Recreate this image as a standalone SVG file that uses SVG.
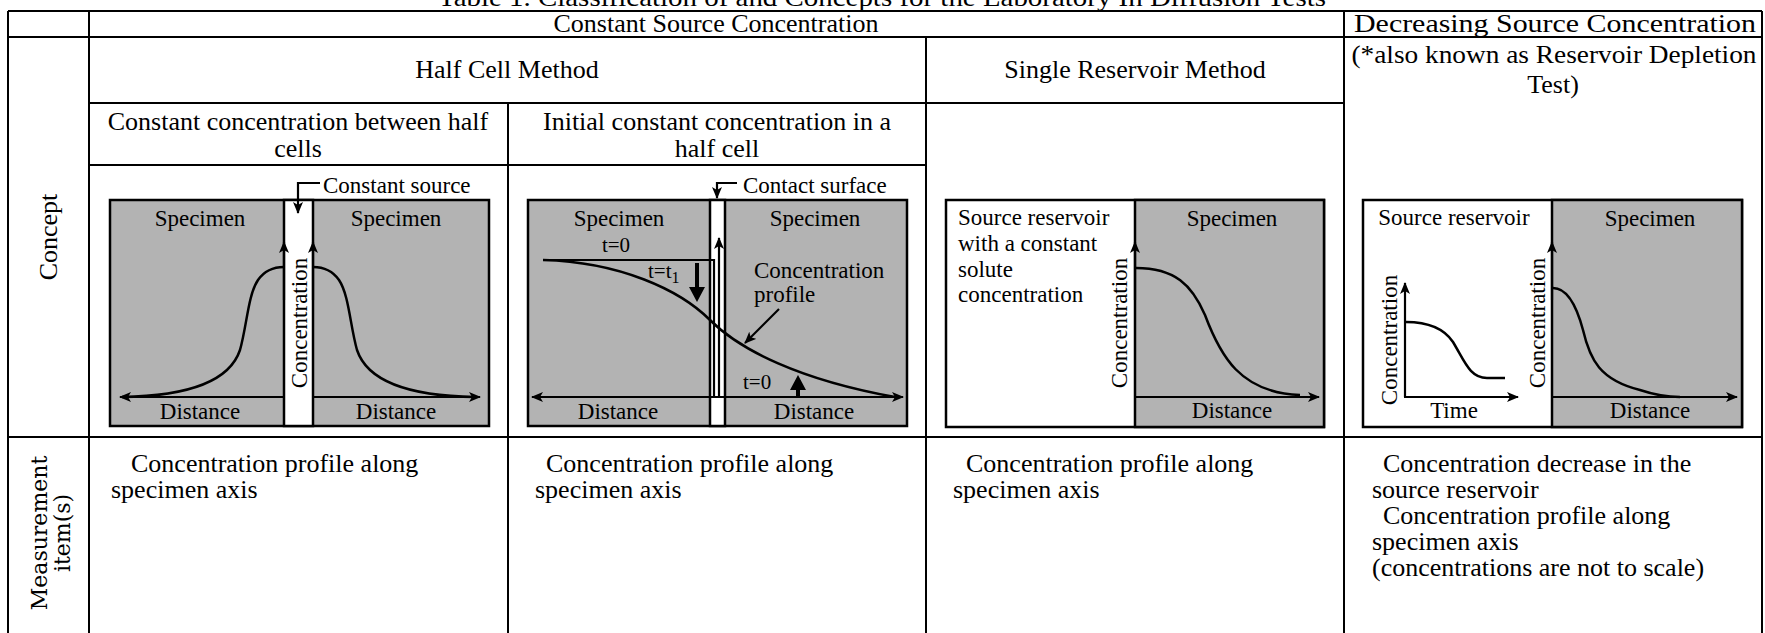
<svg xmlns="http://www.w3.org/2000/svg" width="1765" height="633" viewBox="0 0 1765 633">
<style>
.t{font-family:"Liberation Serif","Times New Roman",serif;font-size:26px;fill:#000}
.mt{font-family:"Liberation Serif","Times New Roman",serif;font-size:26px;fill:#000}
.f{font-family:"Liberation Serif","Times New Roman",serif;font-size:23px;fill:#000}
.s{font-family:"Liberation Serif","Times New Roman",serif;font-size:21px;fill:#000}
.m{font-family:"DejaVu Serif",serif;font-size:22px;fill:#000}
.c{text-anchor:middle}
.grid{stroke:#000;stroke-width:2;fill:none}
.box{stroke:#000;stroke-width:2.5}
.gray{fill:#b3b3b3}
.wh{fill:#fff}
.ax{stroke:#000;stroke-width:2.2;fill:none}
.cv{stroke:#000;stroke-width:2.5;fill:none}
</style>
<defs>
<marker id="ah" viewBox="0 0 12 10" refX="11" refY="5" markerWidth="12" markerHeight="10" markerUnits="userSpaceOnUse" orient="auto-start-reverse">
<path d="M0,0 L12,5 L0,10 L3,5 z" fill="#000"/>
</marker>
</defs>
<rect x="0" y="0" width="1765" height="633" fill="#fff"/>
<text class="t c" x="882" y="6" textLength="888" lengthAdjust="spacingAndGlyphs">Table 1. Classification of and Concepts for the Laboratory In Diffusion Tests</text>

<g id="table-grid" class="grid">
<line x1="8" y1="11" x2="1762" y2="11"/>
<line x1="8" y1="37" x2="1762" y2="37"/>
<line x1="89" y1="103" x2="1344" y2="103"/>
<line x1="89" y1="165" x2="926" y2="165"/>
<line x1="8" y1="437" x2="1762" y2="437"/>
<line x1="8" y1="11" x2="8" y2="633"/>
<line x1="1762" y1="11" x2="1762" y2="633"/>
<line x1="89" y1="11" x2="89" y2="633"/>
<line x1="1344" y1="11" x2="1344" y2="633"/>
<line x1="508" y1="103" x2="508" y2="633"/>
<line x1="926" y1="37" x2="926" y2="633"/>
</g>

<g id="headers">
<text class="t c" x="716" y="32">Constant Source Concentration</text>
<text class="t c" x="1555" y="32" textLength="402" lengthAdjust="spacingAndGlyphs">Decreasing Source Concentration</text>
<text class="t c" x="507" y="78">Half Cell Method</text>
<text class="t c" x="1135" y="78">Single Reservoir Method</text>
<text class="t c" x="1554" y="63" textLength="405" lengthAdjust="spacingAndGlyphs">(*also known as Reservoir Depletion</text>
<text class="t c" x="1553" y="93">Test)</text>
<text class="t c" x="298" y="130">Constant concentration between half</text>
<text class="t c" x="298" y="157">cells</text>
<text class="t c" x="717" y="130">Initial constant concentration in a</text>
<text class="t c" x="717" y="157">half cell</text>
<text class="t c" transform="translate(57,237) rotate(-90)">Concept</text>
<text class="m c" transform="translate(47,533) rotate(-90)">Measurement</text>
<text class="m c" transform="translate(70,533) rotate(-90)">item(s)</text>
</g>

<g id="fig-half-cell-constant">
<rect class="box gray" x="110" y="200" width="379" height="226"/>
<rect class="box wh" x="284" y="200" width="29" height="226"/>
<text class="f c" x="200" y="226">Specimen</text>
<text class="f c" x="396" y="226">Specimen</text>
<line class="ax" x1="284" y1="300" x2="284" y2="242" marker-end="url(#ah)"/>
<line class="ax" x1="313" y1="300" x2="313" y2="242" marker-end="url(#ah)"/>
<line class="ax" x1="284" y1="397" x2="120" y2="397" marker-end="url(#ah)"/>
<line class="ax" x1="313" y1="397" x2="480" y2="397" marker-end="url(#ah)"/>
<path class="cv" d="M122 397 C190 396,230 380,240 350 C247 325,248 295,258 280 C265 270,275 267,284 267"/>
<path class="cv" d="M475 397 C407 396,367 380,357 350 C350 325,349 295,339 280 C332 270,322 267,313 267"/>
<text class="f c" transform="translate(307,323) rotate(-90)">Concentration</text>
<text class="f c" x="200" y="419">Distance</text>
<text class="f c" x="396" y="419">Distance</text>
<path class="ax" d="M320 183 L298 183 L298 213" marker-end="url(#ah)"/>
<text class="f" x="323" y="193">Constant source</text>
</g>

<g id="fig-half-cell-initial">
<rect class="box gray" x="528" y="200" width="379" height="226"/>
<rect class="box wh" x="710" y="200" width="15" height="226"/>
<text class="f c" x="619" y="226">Specimen</text>
<text class="f c" x="815" y="226">Specimen</text>
<path class="ax" d="M543 260 L714 260 L714 397"/>
<line class="ax" x1="719" y1="397" x2="719" y2="238" marker-end="url(#ah)"/>
<line class="ax" x1="532" y1="397" x2="903" y2="397" marker-start="url(#ah)" marker-end="url(#ah)"/>
<path class="cv" d="M543 260 C620 262,680 290,710 320 C740 350,800 380,895 397"/>
<text class="s c" x="616" y="252">t=0</text>
<text class="s" x="648" y="278">t=t<tspan font-size="16" dy="5">1</tspan></text>
<line x1="697" y1="263" x2="697" y2="290" stroke="#000" stroke-width="4"/>
<polygon points="689,287 705,287 697,302" fill="#000"/>
<line x1="798" y1="397" x2="798" y2="387" stroke="#000" stroke-width="4"/>
<polygon points="790,390 806,390 798,375" fill="#000"/>
<text class="f" x="754" y="278">Concentration</text>
<text class="f" x="754" y="302">profile</text>
<line class="ax" x1="779" y1="309" x2="745" y2="343" marker-end="url(#ah)"/>
<text class="s" x="743" y="389">t=0</text>
<text class="f c" x="618" y="419">Distance</text>
<text class="f c" x="814" y="419">Distance</text>
<path class="ax" d="M737 183 L717 183 L717 198" marker-end="url(#ah)"/>
<text class="f" x="743" y="193">Contact surface</text>
</g>

<g id="fig-single-reservoir">
<rect class="box wh" x="946" y="200" width="378" height="227"/>
<rect class="box gray" x="1135" y="200" width="189" height="227"/>
<text class="f" x="958" y="225">Source reservoir</text>
<text class="f" x="958" y="251">with a constant</text>
<text class="f" x="958" y="277">solute</text>
<text class="f" x="958" y="302">concentration</text>
<text class="f c" x="1232" y="226">Specimen</text>
<line class="ax" x1="1135" y1="300" x2="1135" y2="242" marker-end="url(#ah)"/>
<line class="ax" x1="1136" y1="397" x2="1319" y2="397" marker-end="url(#ah)"/>
<path class="cv" d="M1136 268 C1175 268,1192 285,1205 315 C1220 355,1240 393,1300 395"/>
<text class="f c" transform="translate(1127,323) rotate(-90)">Concentration</text>
<text class="f c" x="1232" y="418">Distance</text>
</g>

<g id="fig-reservoir-depletion">
<rect class="box wh" x="1363" y="200" width="379" height="227"/>
<rect class="box gray" x="1552" y="200" width="190" height="227"/>
<text class="f c" x="1454" y="225">Source reservoir</text>
<text class="f c" x="1650" y="226">Specimen</text>
<line class="ax" x1="1405" y1="397" x2="1405" y2="283" marker-end="url(#ah)"/>
<line class="ax" x1="1404" y1="397" x2="1518" y2="397" marker-end="url(#ah)"/>
<path class="cv" d="M1406 322 C1430 322,1445 330,1453 342 C1465 362,1470 378,1487 378 L1505 378"/>
<text class="f c" transform="translate(1397,340) rotate(-90)">Concentration</text>
<text class="f c" x="1454" y="418">Time</text>
<line class="ax" x1="1552" y1="300" x2="1552" y2="242" marker-end="url(#ah)"/>
<line class="ax" x1="1553" y1="397" x2="1737" y2="397" marker-end="url(#ah)"/>
<path class="cv" d="M1553 288 C1565 288,1575 300,1583 330 C1590 360,1600 380,1640 390 C1655 395,1665 397,1680 397"/>
<text class="f c" transform="translate(1545,323) rotate(-90)">Concentration</text>
<text class="f c" x="1650" y="418">Distance</text>
</g>

<g id="measurements">
<text class="mt" x="131" y="472">Concentration profile along</text>
<text class="mt" x="111" y="498">specimen axis</text>
<text class="mt" x="546" y="472">Concentration profile along</text>
<text class="mt" x="535" y="498">specimen axis</text>
<text class="mt" x="966" y="472">Concentration profile along</text>
<text class="mt" x="953" y="498">specimen axis</text>
<text class="mt" x="1383" y="472">Concentration decrease in the</text>
<text class="mt" x="1372" y="498">source reservoir</text>
<text class="mt" x="1383" y="524">Concentration profile along</text>
<text class="mt" x="1372" y="550">specimen axis</text>
<text class="mt" x="1372" y="576">(concentrations are not to scale)</text>
</g>
</svg>
